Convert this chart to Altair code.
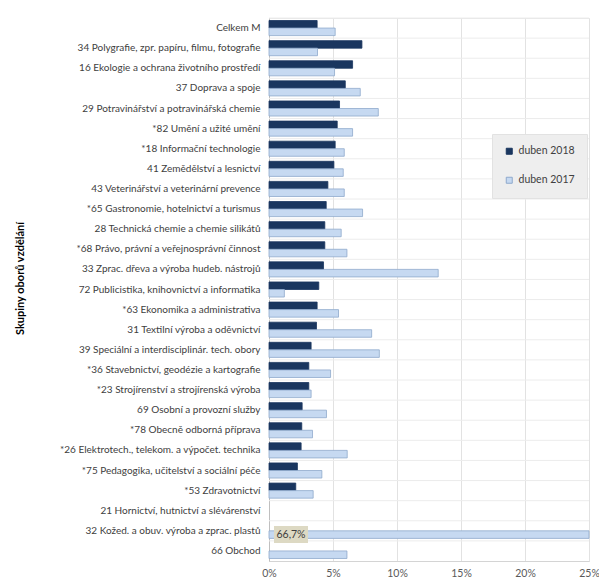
import altair as alt
import pandas as pd

categories = [
    "Celkem M",
    "34 Polygrafie, zpr. papíru, filmu, fotografie\u00a0",
    "16 Ekologie a ochrana životního prostředí",
    "37 Doprava a spoje",
    "29 Potravinářství a potravinářská chemie\u00a0",
    "*82 Umění a užité umění",
    "*18 Informační technologie",
    "41 Zemědělství a lesnictví",
    "43 Veterinářství a veterinární prevence",
    "*65 Gastronomie, hotelnictví a turismus",
    "28 Technická chemie a chemie silikátů\u00a0",
    "*68 Právo, právní a veřejnosprávní činnost",
    "33 Zprac. dřeva a výroba hudeb. nástrojů",
    "72 Publicistika, knihovnictví a informatika",
    "*63 Ekonomika a administrativa",
    "31 Textilní výroba a oděvnictví",
    "39 Speciální a interdisciplinár. tech. obory",
    "*36 Stavebnictví, geodézie a kartografie",
    "*23 Strojírenství a strojírenská výroba\u00a0",
    "69 Osobní a provozní služby",
    "*78 Obecně odborná příprava",
    "*26 Elektrotech., telekom. a výpočet. technika",
    "*75 Pedagogika, učitelství a sociální péče\u00a0",
    "*53 Zdravotnictví",
    "21 Hornictví, hutnictví a slévárenství\u00a0",
    "32 Kožed. a obuv. výroba a zprac. plastů",
    "66 Obchod",
]

duben_2018 = [3.76, 7.26, 6.53, 5.96, 5.51, 5.33, 5.17, 5.07, 4.60, 4.47, 4.36, 4.36, 4.26,
              3.89, 3.76, 3.71, 3.29, 3.11, 3.11, 2.59, 2.56, 2.51, 2.22, 2.09, 0.0, 0.0, 0.0]
duben_2017 = [5.17, 3.79, 5.12, 7.13, 8.54, 6.53, 5.88, 5.80, 5.88, 7.31, 5.64, 6.09, 13.22,
              1.20, 5.43, 8.02, 8.62, 4.81, 3.29, 4.49, 3.40, 6.11, 4.13, 3.45, 0.0, 66.7, 6.09]

series = ["duben 2018", "duben 2017"]
x_ticks = [0, 0.05, 0.10, 0.15, 0.20, 0.25]

annotation_category = "32 Kožed. a obuv. výroba a zprac. plastů"
annotation_series = "duben 2017"
annotation_text = "66,7%"

rows = []
for c, a, b in zip(categories, duben_2018, duben_2017):
    rows.append({"cat": c, "series": series[0], "value": a / 100})
    rows.append({"cat": c, "series": series[1], "value": b / 100})
df = pd.DataFrame(rows)
df = df[df["value"] > 0]
cat_df = pd.DataFrame({"cat": categories})
ann_df = pd.DataFrame({"cat": [annotation_category], "series": [annotation_series],
                       "text": [annotation_text]})

DARK = "#1a365f"
LIGHT = "#c6d9f1"
LIGHT_STROKE = "#8fa9cc"
FONT = "Lato"
W, H = 320, 543

y_scale = alt.Scale(domain=categories, paddingInner=0.25, paddingOuter=0.125)
y_axis = alt.Axis(orient="left", title="Skupiny oborů vzdělání", labelLimit=400,
                  labelFontSize=10, labelColor="#404040", labelFont=FONT,
                  labelPadding=9, ticks=False, domainColor="#bfbfbf",
                  titleFont=FONT, titleFontSize=11, titleFontWeight="bold",
                  titleColor="#000000", titleX=-249, titleY=260,
                  titleAngle=270, titleAlign="center", titleBaseline="middle")
y_enc = alt.Y("cat:N", scale=y_scale, sort=categories, axis=y_axis)
off_enc = alt.YOffset("series:N", sort=series, scale=alt.Scale(domain=series, paddingInner=0))

x_scale = alt.Scale(domain=[0, 0.25], clamp=True, nice=False)

sep = alt.Chart(cat_df).mark_rule(color="#ececec", strokeWidth=1).encode(
    y=alt.Y("cat:N", sort=categories, bandPosition=0, axis=None,
            scale=alt.Scale(domain=categories, paddingInner=0, paddingOuter=0)),
    x=alt.value(0), x2=alt.value(W),
)

bars = alt.Chart(df).mark_bar(strokeWidth=0.8).encode(
    y=y_enc,
    yOffset=off_enc,
    x=alt.X("value:Q", scale=x_scale,
            axis=alt.Axis(values=x_ticks, format="%", title=None, grid=True,
                          gridColor="#e2e2e2", domainColor="#d4d4d4", ticks=False,
                          labelFlush=False, labelFont=FONT, labelFontSize=10.5,
                          labelColor="#595959", labelPadding=7)),
    color=alt.Color("series:N", scale=alt.Scale(domain=series, range=[DARK, LIGHT]),
                    legend=alt.Legend(title=None, orient="none", legendX=223, legendY=116,
                                      fillColor="#eeeeee", strokeColor="#e2e2e2", padding=12,
                                      rowPadding=18, symbolType="square", symbolSize=36,
                                      labelFont=FONT, labelFontSize=10.5, labelColor="#404040",
                                      labelOffset=4, symbolStrokeWidth=1)),
    stroke=alt.Stroke("series:N", scale=alt.Scale(domain=series, range=[DARK, LIGHT_STROKE]),
                      legend=None),
)

ann_box = alt.Chart(ann_df).mark_point(
    shape="M-1,-0.5H1V0.5H-1Z", size=1156, filled=True, fill="#ddd9c3", opacity=1,
    strokeOpacity=0,
).encode(y=y_enc, yOffset=off_enc, x=alt.value(22))

ann_text = alt.Chart(ann_df).mark_text(font=FONT, fontSize=10.5, color="#404040").encode(
    y=y_enc, yOffset=off_enc, x=alt.value(22), text="text:N",
)

main = alt.layer(bars, ann_box, ann_text)

chart = alt.layer(sep, main).resolve_scale(y="independent").properties(
    width=W, height=H,
    autosize=alt.AutoSizeParams(type="none"),
    padding={"left": 261, "top": 10, "right": 10, "bottom": 20},
).configure_view(stroke="#e6e6e6")

chart.save("out.html", embed_options={"renderer": "svg", "actions": False})
